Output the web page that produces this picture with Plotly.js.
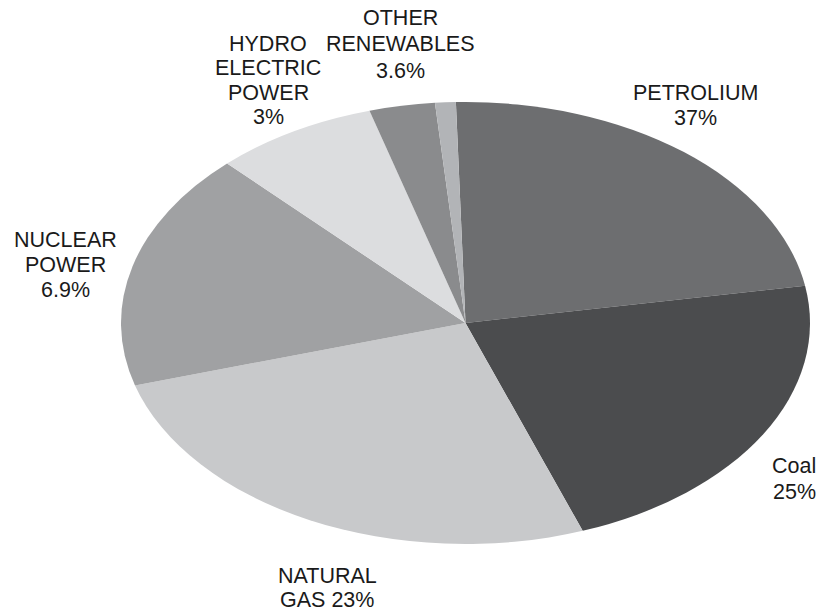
<!DOCTYPE html>
<html>
<head>
<meta charset="utf-8">
<script src="https://cdn.plot.ly/plotly-3.0.1.min.js"></script>
<style>html,body{margin:0;padding:0;background:#fff;}#chart{width:819px;height:611px;}</style>
</head>
<body>
<div id="chart"></div>
<script>
// Slice shares (clockwise from just left of 12 o'clock)
const categories = ["PETROLIUM", "Coal", "NATURAL GAS", "NUCLEAR POWER", "HYDRO ELECTRIC POWER", "OTHER RENEWABLES", "OTHER"];
const sliceValues = [22.75, 22.17, 25.97, 17.39, 7.67, 3.08, 0.97];
const sliceColors = ["#6d6e70", "#4b4c4e", "#c8c9cb", "#a0a1a3", "#dcdddf", "#8a8b8d", "#b2b4b7"];
// Label texts printed on the chart, one entry per line
const labelLines = [
  ["PETROLIUM", "37%"],
  ["Coal", "25%"],
  ["NATURAL", "GAS 23%"],
  ["NUCLEAR", "POWER", "6.9%"],
  ["HYDRO", "ELECTRIC", "POWER", "3%"],
  ["OTHER", "RENEWABLES", "3.6%"]
];
const labelX = [695, 794, 327, 65, 268, 400];
const labelLineY = [
  [93, 118],
  [466, 492],
  [576, 600],
  [240, 265, 290],
  [44, 68, 93, 117],
  [18, 44, 71]
];

const W = 819, H = 611;
const cx = 465.5, cy = 323, ry = 221, rx = 344.5;

const trace = {
  type: "pie",
  labels: categories,
  values: sliceValues,
  sort: false,
  direction: "clockwise",
  rotation: -1.6,
  textinfo: "none",
  hoverinfo: "label+percent",
  marker: {colors: sliceColors, line: {width: 0}},
  domain: {x: [(cx - ry) / W, (cx + ry) / W], y: [1 - (cy + ry) / H, 1 - (cy - ry) / H]},
  showlegend: false
};

const annotations = [];
labelLines.forEach((lines, i) => {
  lines.forEach((t, j) => {
    annotations.push({
      text: t, xref: "paper", yref: "paper",
      x: labelX[i] / W, y: 1 - labelLineY[i][j] / H,
      xanchor: "center", yanchor: "middle", showarrow: false, align: "center",
      font: {family: "Liberation Sans, Arial, sans-serif", size: 21.5, color: "#1a1a1a"}
    });
  });
});

const layout = {
  width: W, height: H,
  margin: {l: 0, r: 0, t: 0, b: 0},
  paper_bgcolor: "#ffffff",
  showlegend: false,
  annotations: annotations
};

Plotly.newPlot("chart", [trace], layout, {displayModeBar: false, staticPlot: true}).then(() => {
  const k = rx / ry;
  document.querySelectorAll(".pielayer").forEach(g => {
    g.setAttribute("transform", `translate(${cx},0) scale(${k},1) translate(${-cx},0)`);
  });
});
</script>
</body>
</html>
